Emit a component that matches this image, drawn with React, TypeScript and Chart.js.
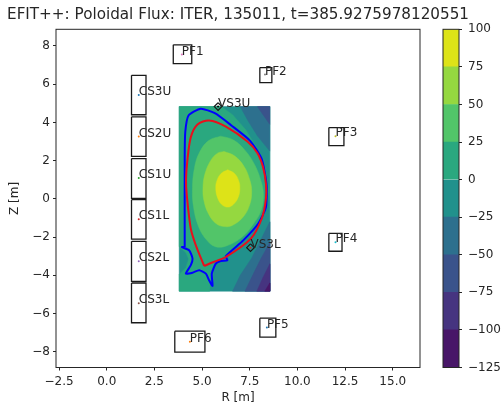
import React, { useEffect, useRef } from "react";
import { Chart, registerables } from "chart.js";

Chart.register(...registerables);

const FONT = "'DejaVu Sans'";
const INK = "#262626";
const TITLE = "EFIT++: Poloidal Flux: ITER, 135011, t=385.9275978120551";

const rTicks = [-2.5, 0, 2.5, 5, 7.5, 10, 12.5, 15];
const zTicks = [-8, -6, -4, -2, 0, 2, 4, 6, 8];
const barTicks = [-125, -100, -75, -50, -25, 0, 25, 50, 75, 100];

const bandEdges = [-125, -100, -75, -50, -25, 0, 25, 50, 75, 100];
const bandColors = ["#481668", "#463480", "#3a538b", "#2d708e", "#21918c", "#2aa87f", "#52c569", "#95d840", "#dde318"];

type P = [number, number];

// contour regions of the flux map, [R, Z]
const gridBox: P[] = [[3.8, 4.83], [8.55, 4.83], [8.55, -4.83], [3.8, -4.83], [3.8, 4.83]];
const levelZero: P[] = [
  [3.8, 4.83], [6.0, 4.83], [6.6, 4.4], [7.3, 3.6], [7.9, 2.6], [8.3, 1.6], [8.5, 0.6], [8.45, -0.2], [8.1, -1.1],
  [7.6, -1.8], [6.9, -2.45], [6.2, -2.95], [5.7, -3.3], [5.45, -3.8], [5.4, -4.83], [3.8, -4.83], [3.8, -3.95],
  [4.15, -3.6], [4.3, -3.15], [4.15, -2.8], [3.8, -2.5], [3.8, 4.83],
];
const level25: P[] = [
  [5.98, 3.28], [6.6, 3.1], [7.2, 2.6], [7.75, 1.8], [8.1, 0.9], [8.22, 0.2], [8.1, -0.6], [7.7, -1.3], [7.1, -2.0],
  [6.3, -2.45], [5.7, -2.5], [5.2, -2.1], [4.8, -1.4], [4.55, -0.4], [4.5, 0.6], [4.6, 1.6], [4.85, 2.4], [5.35, 3.05], [5.98, 3.28],
];
const level50: P[] = [
  [6.15, 2.48], [6.7, 2.25], [7.2, 1.7], [7.5, 1.0], [7.6, 0.4], [7.5, -0.3], [7.15, -0.95], [6.6, -1.38], [6.2, -1.45],
  [5.75, -1.3], [5.35, -0.8], [5.1, -0.1], [5.05, 0.6], [5.15, 1.3], [5.45, 2.0], [5.8, 2.38], [6.15, 2.48],
];
const level75: P[] = [
  [6.35, 1.52], [6.7, 1.33], [6.92, 0.95], [6.98, 0.55], [6.9, 0.1], [6.65, -0.28], [6.35, -0.43], [6.02, -0.28],
  [5.8, 0.1], [5.72, 0.55], [5.78, 0.95], [6.0, 1.33], [6.35, 1.52],
];
const topMinus25: P[] = [[7.0, 4.83], [7.4, 4.1], [7.9, 3.3], [8.55, 2.5], [8.55, 4.83], [7.0, 4.83]];
const topMinus50: P[] = [[7.9, 4.83], [8.2, 4.4], [8.55, 3.9], [8.55, 4.83], [7.9, 4.83]];
const lowMinus25: P[] = [[6.6, -4.83], [7.0, -4.0], [7.6, -3.1], [8.1, -2.1], [8.55, -1.2], [8.55, -4.83], [6.6, -4.83]];
const lowMinus50: P[] = [[7.25, -4.83], [7.7, -3.9], [8.1, -3.1], [8.55, -2.3], [8.55, -4.83], [7.25, -4.83]];
const lowMinus75: P[] = [[7.87, -4.83], [8.2, -4.1], [8.55, -3.4], [8.55, -4.83], [7.87, -4.83]];
const lowMinus100: P[] = [[8.29, -4.83], [8.55, -4.4], [8.55, -4.83], [8.29, -4.83]];

const plasmaBoundary: P[] = [
  [5.11, -3.51], [4.7, -2.5], [4.41, -1.56], [4.2, 0.18], [4.16, 1.0], [4.23, 2.01], [4.41, 3.23], [4.76, 3.89], [5.37, 4.1], [6.25, 3.78],
  [7.38, 3.0], [7.9, 2.4], [8.2, 1.66], [8.35, 0.79], [8.35, 0.01], [8.14, -1.0], [7.56, -2.08], [6.25, -3.04], [5.6, -3.3], [5.11, -3.51],
];
const limiter: P[] = [
  [4.09, -2.52], [4.09, 2.18], [4.12, 3.5], [4.29, 4.36], [4.93, 4.71], [5.67, 4.48], [6.54, 3.84], [7.51, 3.05], [8.12, 2.1],
  [8.38, 0.79], [8.35, -0.43], [7.94, -1.3], [7.16, -2.17], [6.25, -2.99], [6.33, -3.21], [5.98, -3.25], [5.72, -3.39], [5.51, -3.91],
  [5.55, -4.55], [5.37, -4.26], [5.2, -3.91], [4.85, -3.73], [4.5, -3.86], [4.15, -3.91], [4.41, -3.47], [4.5, -3.12], [4.32, -2.69],
  [3.94, -2.52], [4.09, -2.52],
];

const coilNames = ["CS3U", "CS2U", "CS1U", "CS1L", "CS2L", "CS3L", "PF1", "PF2", "PF3", "PF4", "PF5", "PF6"];
const coilR = [1.68, 1.68, 1.68, 1.68, 1.68, 1.68, 3.94, 8.3, 12.0, 12.0, 8.4, 4.36];
const coilZ = [5.44, 3.26, 1.09, -1.07, -3.26, -5.46, 7.55, 6.5, 3.27, -2.27, -6.73, -7.47];
const coilRMin = [1.3, 1.3, 1.3, 1.3, 1.3, 1.3, 3.49, 8.03, 11.65, 11.65, 8.03, 3.57];
const coilRMax = [2.06, 2.06, 2.06, 2.06, 2.06, 2.06, 4.46, 8.66, 12.44, 12.34, 8.87, 5.15];
const coilZMin = [4.4, 2.22, 0.03, -2.11, -4.31, -6.48, 7.07, 6.08, 2.79, -2.74, -7.23, -8.02];
const coilZMax = [6.46, 4.29, 2.11, -0.04, -2.22, -4.4, 8.06, 6.87, 3.73, -1.8, -6.24, -6.92];
const coilDots = ["#1f77b4", "#ff7f0e", "#2ca02c", "#d62728", "#9467bd", "#8c564b", "#e377c2", "#7f7f7f", "#bcbd22", "#17becf", "#1f77b4", "#ff7f0e"];

const vsNames = ["VS3U", "VS3L"];
const vsR = [5.84, 7.54];
const vsZ = [4.83, -2.55];
const vsDots = ["#000000", "#d62728"];
const vsUpperShape: P[] = [[5.84, 5.03], [6.04, 4.83], [5.84, 4.63], [5.64, 4.83], [5.84, 5.03]];
const vsLowerShape: P[] = [[7.54, -2.35], [7.74, -2.55], [7.54, -2.75], [7.34, -2.55], [7.54, -2.35]];

const toPts = (a: P[]) => a.map(([x, y]) => ({ x, y }));
const patch = (a: P[], color: string, tension = 0) => ({
  type: "scatter", data: toPts(a), showLine: true, fill: "shape", backgroundColor: color, borderColor: color,
  borderWidth: 0.5, tension, pointRadius: 0,
});
const outline = (a: P[], color: string, width: number, tension = 0) => ({
  type: "scatter", data: toPts(a), showLine: true, fill: false, borderColor: color, backgroundColor: color,
  borderWidth: width, tension, pointRadius: 0,
});

const frame = {
  id: "frame",
  afterDraw(c: any) {
    const { left, top, width, height } = c.chartArea;
    const g = c.ctx;
    g.save();
    g.strokeStyle = INK;
    g.lineWidth = 1;
    g.strokeRect(left, top, width, height);
    g.restore();
  },
};

const titleText = {
  id: "titleText",
  afterDraw(c: any) {
    const g = c.ctx;
    g.save();
    g.font = `15.2px ${FONT}`;
    g.fillStyle = INK;
    g.textAlign = "center";
    g.textBaseline = "alphabetic";
    g.fillText(TITLE, (c.chartArea.left + c.chartArea.right) / 2, 19);
    g.restore();
  },
};

const coilLabels = {
  id: "coilLabels",
  afterDatasetsDraw(c: any) {
    const g = c.ctx;
    g.save();
    g.font = `12px ${FONT}`;
    g.fillStyle = INK;
    g.textAlign = "left";
    g.textBaseline = "alphabetic";
    coilNames.forEach((n, i) => g.fillText(n, c.scales.x.getPixelForValue(coilR[i]), c.scales.y.getPixelForValue(coilZ[i])));
    vsNames.forEach((n, i) => g.fillText(n, c.scales.x.getPixelForValue(vsR[i]), c.scales.y.getPixelForValue(vsZ[i])));
    g.restore();
  },
};

const fmtR = (v: number) => v.toFixed(1).replace("-", "\u2212");
const fmtInt = (v: number) => String(v).replace("-", "\u2212");
const tickFont = { family: FONT, size: 12 };

export default function App() {
  const mainRef = useRef<HTMLCanvasElement>(null);
  const barRef = useRef<HTMLCanvasElement>(null);

  useEffect(() => {
    const sets: any[] = [
      outline(plasmaBoundary, "#e8101c", 2, 0.3),
      outline(limiter, "#0000ff", 2, 0.2),
      {
        type: "scatter",
        data: [...coilR.map((x, i) => ({ x, y: coilZ[i] })), ...vsR.map((x, i) => ({ x, y: vsZ[i] }))],
        backgroundColor: [...coilDots, ...vsDots], borderWidth: 0, pointRadius: 1,
      },
      outline(vsUpperShape, "#1a1a1a", 1.2),
      outline(vsLowerShape, "#1a1a1a", 1.2),
      ...coilNames.map((_, i) =>
        outline(
          [[coilRMin[i], coilZMax[i]], [coilRMax[i], coilZMax[i]], [coilRMax[i], coilZMin[i]], [coilRMin[i], coilZMin[i]], [coilRMin[i], coilZMax[i]]],
          "#1a1a1a", 1.3,
        ),
      ),
      patch(level75, bandColors[8], 0.4),
      patch(level50, bandColors[7], 0.4),
      patch(level25, bandColors[6], 0.4),
      patch(lowMinus100, bandColors[0]),
      patch(lowMinus75, bandColors[1]),
      patch(lowMinus50, bandColors[2]),
      patch(lowMinus25, bandColors[3]),
      patch(topMinus50, bandColors[2]),
      patch(topMinus25, bandColors[3]),
      patch(levelZero, bandColors[5]),
      patch(gridBox, bandColors[4]),
    ];
    sets.forEach((s, i) => (s.order = i));

    const main = new Chart(mainRef.current!, {
      type: "scatter",
      data: { datasets: sets },
      plugins: [frame, coilLabels, titleText],
      options: {
        animation: false,
        responsive: false,
        layout: { padding: { left: 0, right: 84, top: 29.3, bottom: 0 } },
        plugins: {
          legend: { display: false },
          tooltip: { enabled: false },
          title: { display: false },
        },
        scales: {
          x: {
            type: "linear", min: -2.66, max: 16.43,
            afterBuildTicks(s: any) { s.ticks = rTicks.map((value) => ({ value })); },
            afterFit(s: any) { s.height = 39.5; },
            grid: { display: true, drawOnChartArea: false, drawTicks: true, tickLength: 3, tickColor: INK },
            border: { display: false },
            ticks: { color: INK, font: tickFont, padding: 4, maxRotation: 0, autoSkip: false, callback: (v: any) => fmtR(Number(v)) },
            title: { display: true, text: "R [m]", color: INK, font: tickFont, padding: { top: 1, bottom: 2 } },
          },
          y: {
            type: "linear", min: -8.82, max: 8.87,
            afterBuildTicks(s: any) { s.ticks = zTicks.map((value) => ({ value })); },
            afterFit(s: any) { s.width = 56; },
            grid: { display: true, drawOnChartArea: false, drawTicks: true, tickLength: 3, tickColor: INK },
            border: { display: false },
            ticks: { color: INK, font: tickFont, padding: 3, autoSkip: false, callback: (v: any) => fmtInt(Number(v)) },
            title: { display: true, text: "Z [m]", color: INK, font: tickFont, padding: { top: 8, bottom: 0 } },
          },
        },
      } as any,
    } as any);

    const bar = new Chart(barRef.current!, {
      type: "bar",
      data: {
        labels: ["flux"],
        datasets: bandColors.map((color, i) => ({
          data: [[bandEdges[i], bandEdges[i + 1]]] as any, backgroundColor: color, grouped: false,
          barPercentage: 1, categoryPercentage: 1, borderWidth: 0,
        })),
      },
      plugins: [frame],
      options: {
        animation: false,
        responsive: false,
        layout: { padding: { left: 3, right: 0, top: 29.3, bottom: 39.5 } },
        plugins: { legend: { display: false }, tooltip: { enabled: false } },
        scales: {
          x: { display: false },
          y: {
            type: "linear", position: "right", min: -125, max: 100,
            afterBuildTicks(s: any) { s.ticks = barTicks.map((value) => ({ value })); },
            afterFit(s: any) { s.width = 45; },
            grid: { display: true, drawOnChartArea: false, drawTicks: true, tickLength: 3, tickColor: INK },
            border: { display: false },
            ticks: { color: INK, font: tickFont, padding: 6, autoSkip: false, callback: (v: any) => fmtInt(Number(v)) },
          },
        },
      } as any,
    } as any);

    return () => {
      main.destroy();
      bar.destroy();
    };
  }, []);

  return (
    <div style={{ position: "absolute", left: 0, top: 0, width: 504, height: 407, background: "#fff", overflow: "hidden", filter: "blur(0.5px)" }}>
      <canvas ref={mainRef} width={504} height={407} style={{ position: "absolute", left: 0, top: 0 }} />
      <canvas ref={barRef} width={64} height={407} style={{ position: "absolute", left: 440, top: 0 }} />
    </div>
  );
}
